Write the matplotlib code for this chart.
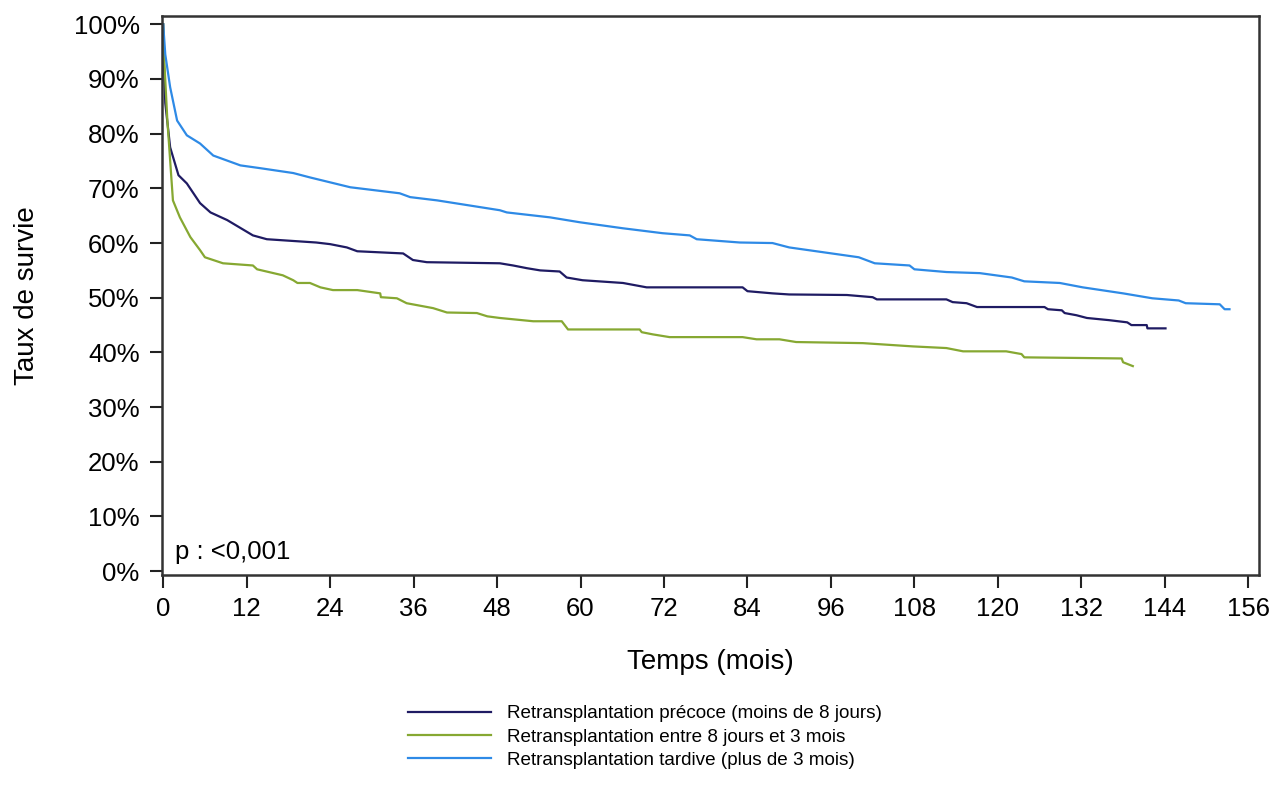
import numpy as np
import matplotlib
matplotlib.use("Agg")
import matplotlib.pyplot as plt
from matplotlib.ticker import PercentFormatter

plt.rcParams['font.family'] = ['Liberation Sans', 'DejaVu Sans']

# courbes de survie (mois, %)
precoce_t = [0, 0.1, 0.3, 1.0, 2.2, 3.4, 5.3, 6.8, 9.2, 12.9, 14.9, 22, 24, 26.4, 27.9, 34.5,
             35.9, 37.9, 48.4, 50.3, 52.3, 54.2, 57, 58, 60.3, 66.1, 69.5, 83.3, 84, 87.6, 90,
             98.3, 102, 102.6, 112.6, 113.5, 115.5, 117, 126.7, 127.2, 129.2, 129.6, 131.3,
             132.8, 136, 138.6, 139.2, 141.4, 141.5, 144.1]
precoce_s = [100, 93, 85.6, 77.5, 72.4, 70.9, 67.3, 65.6, 64.2, 61.4, 60.7, 60.1, 59.8, 59.2,
             58.5, 58.1, 56.9, 56.5, 56.3, 55.9, 55.4, 55, 54.8, 53.7, 53.2, 52.7, 51.9, 51.9,
             51.2, 50.8, 50.6, 50.5, 50.1, 49.7, 49.7, 49.2, 49, 48.3, 48.3, 47.9, 47.7, 47.2,
             46.8, 46.3, 45.9, 45.5, 45, 45, 44.4, 44.4]

entre_t = [0, 0.1, 0.6, 1.4, 2.4, 3.9, 5.3, 6, 8.6, 12.9, 13.5, 17.2, 18.7, 19.3, 21.1, 22.6,
           24.4, 27.9, 31.2, 31.3, 33.6, 35, 38.8, 40.8, 45.1, 46.6, 48.4, 53.2, 57.3, 58.2,
           68.5, 68.8, 70.4, 72.8, 83.3, 85.3, 88.6, 91, 100.6, 107.8, 112.6, 115, 121.2,
           123.4, 123.8, 137.8, 138, 139.4]
entre_s = [100, 94.7, 82.4, 67.8, 64.7, 61.1, 58.7, 57.4, 56.3, 55.9, 55.2, 54.1, 53.2, 52.7,
           52.7, 51.9, 51.4, 51.4, 50.8, 50.1, 49.9, 49, 48.1, 47.3, 47.2, 46.6, 46.3, 45.7,
           45.7, 44.2, 44.2, 43.7, 43.3, 42.8, 42.8, 42.4, 42.4, 41.9, 41.7, 41.1, 40.8, 40.2,
           40.2, 39.7, 39.1, 38.9, 38.2, 37.5]

tardive_t = [0, 0.3, 1.0, 2.0, 3.4, 5.3, 7.2, 11.1, 13.9, 18.7, 21.1, 26.9, 34, 35.5, 39.4,
             48.4, 49.4, 55.6, 59.9, 66.1, 71.8, 75.7, 76.7, 82.9, 87.6, 90, 100, 102.3, 107.3,
             108, 112.6, 117.4, 122, 123.8, 128.9, 132.2, 138, 142.2, 146, 147, 151.9, 152.6,
             153.3]
tardive_s = [100, 94.5, 88.5, 82.4, 79.7, 78.2, 76, 74.2, 73.7, 72.8, 72, 70.2, 69.1, 68.4,
             67.8, 66, 65.6, 64.7, 63.8, 62.7, 61.8, 61.4, 60.7, 60.1, 60, 59.2, 57.4, 56.3,
             55.9, 55.2, 54.7, 54.5, 53.7, 53, 52.7, 51.9, 50.8, 49.9, 49.5, 49, 48.8, 47.9, 47.9]

labels = ["Retransplantation précoce (moins de 8 jours)",
          "Retransplantation entre 8 jours et 3 mois",
          "Retransplantation tardive (plus de 3 mois)"]
couleurs = ["#1f1b63", "#86a832", "#2e8ae6"]

xticks = np.arange(0, 157, 12)
yticks = np.arange(0, 101, 10)

fig = plt.figure(figsize=(12.74, 7.85), dpi=100)
ax = fig.add_axes([0.127, 0.2675, 0.861, 0.712])

for t, s, lab, c in zip([precoce_t, entre_t, tardive_t], [precoce_s, entre_s, tardive_s],
                        labels, couleurs):
    ax.plot(t, s, color=c, lw=1.6, label=lab)

ax.set_xlim(-0.2, 157.5)
ax.set_ylim(-0.7, 101.5)
ax.set_xticks(xticks)
ax.set_yticks(yticks)
ax.yaxis.set_major_formatter(PercentFormatter(xmax=100, decimals=0))
ax.tick_params(axis='both', direction='out', length=9, width=1.5, labelsize=18.5,
               color='#222222', pad=7)
for sp in ax.spines.values():
    sp.set_linewidth(1.8)
    sp.set_color('#333333')

ax.set_xlabel("Temps (mois)", fontsize=20, labelpad=20)
ax.set_ylabel("Taux de survie", fontsize=20, labelpad=24)
ax.text(0.012, 0.02, "p : <0,001", transform=ax.transAxes, fontsize=18.5, va='bottom', ha='left')

fig.legend(loc='upper center', bbox_to_anchor=(0.506, 0.114), frameon=False, fontsize=13.6,
           handlelength=4.4, handletextpad=0.85, labelspacing=0.33, borderpad=0)

fig.savefig("out.png", dpi=100)
